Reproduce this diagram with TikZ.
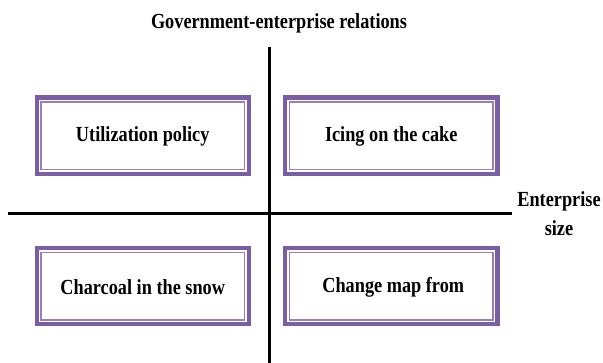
\documentclass[tikz,border=0pt]{standalone}
\usepackage{fontspec}
\newfontfamily\lblfont{Liberation Serif}[FakeStretch=0.85]
\definecolor{boxpurple}{HTML}{7B5FA6}
\definecolor{innerpurple}{HTML}{9580B8}
\begin{document}
\begin{tikzpicture}[x=1pt,y=-1pt,
  lbl/.style={font=\lblfont\bfseries\fontsize{21.5}{29}\selectfont, text=black, inner sep=0pt},
  axis/.style={line width=3pt, black},
]
\useasboundingbox (0,0) rectangle (603,363);
\fill[white] (0,0) rectangle (603,363);
% axes
\coordinate (vtop) at (269,47);
\coordinate (vbot) at (269,363);
\coordinate (hl) at (8,213.5);
\coordinate (hr) at (512,213.5);
\draw[axis] (vtop) -- (vbot);
\draw[axis] (hl) -- (hr);
% boxes (outer edge x, y; size 216.5 x 80.5)
\foreach \n/\xa/\ya in {tl/34.5/95.5, tr/283/95.5, bl/34.5/246, br/283/246}{
  \draw[boxpurple, line width=4.2pt] (\xa+2.1,\ya+2.1) rectangle ++(212.3,76.3);
  \draw[innerpurple, line width=1.5pt] (\xa+6.3,\ya+6.3) rectangle ++(203.9,67.9);
  \coordinate (\n) at (\xa+108.25,\ya+40.25);
}
\node[lbl] (t1) at ([yshift=-1pt]tl) {Utilization policy};
\node[lbl] (t2) at ([yshift=-1pt]tr) {Icing on the cake};
\node[lbl] (t3) at ([yshift=-1pt]bl) {Charcoal in the snow};
\node[lbl] (t4) at ([xshift=2pt,yshift=-1pt]br) {Change map from};
\node[lbl] (title) at (279,23) {Government-enterprise relations};
\node[lbl, align=center] (xlab) at (559,214) {Enterprise\\size};
\end{tikzpicture}
\end{document}
